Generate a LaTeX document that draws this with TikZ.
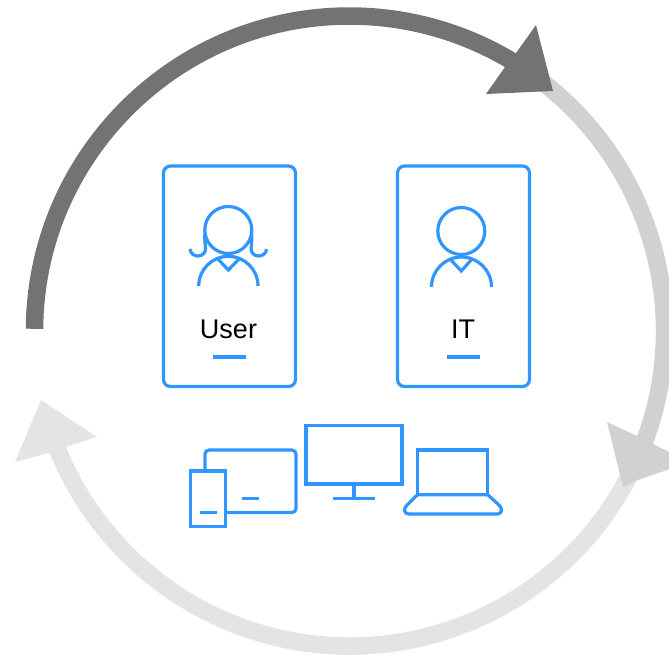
\documentclass[tikz,border=0pt]{standalone}
\usepackage{fontspec}
\setmainfont{Liberation Sans}
\definecolor{blueic}{HTML}{2F96FF}
\definecolor{darkarc}{HTML}{737373}
\definecolor{midarc}{HTML}{D1D1D1}
\definecolor{lightarc}{HTML}{E4E4E4}
\tikzset{
  icon/.style={draw=blueic,line width=3.2pt,fill=none},
  card/.style={icon,rounded corners=7pt},
  lbl/.style={font=\fontsize{27}{31}\selectfont,text=black,inner sep=0pt,anchor=base},
  ring/.style={line width=17.5pt,draw=#1}
}
\begin{document}
\begin{tikzpicture}[x=1pt,y=1pt,yscale=-1]
\useasboundingbox (0,0) rectangle (669,657);
% light arc and head
\draw[ring=lightarc] (349.5,331) ++(25:315pt) arc[start angle=25,end angle=159,radius=315pt];
\fill[lightarc] (41,400) -- (97,437) -- (65,447) -- (49,453) -- (15,462) -- cycle;
% mid arc and head
\draw[ring=midarc] (349.5,331) ++(-55:315pt) arc[start angle=-55,end angle=26,radius=315pt];
\fill[midarc] (607,422) -- (637,436) -- (653,444) -- (690,462) -- (635,481) -- (623,487) -- cycle;
% dark arc and head
\draw[ring=darkarc] (349.5,331) ++(180.4:315pt) arc[start angle=180.4,end angle=303,radius=315pt];
\fill[darkarc] (536,25) -- (553,91) -- (486,94) -- (505,67) -- (516,53) -- cycle;
% user card
\draw[card] (163.5,166) rectangle (295.5,386.5);
\draw[icon] (228.3,230) circle[radius=23.5pt];
\draw[icon] (190,249) .. controls (190.5,253.5) and (194,256) .. (198,256) .. controls (203,256) and (206,252) .. (205.5,248) .. controls (205,243) and (204.5,238) .. (205,233);
\draw[icon] (266.6,249) .. controls (266.1,253.5) and (262.6,256) .. (258.6,256) .. controls (253.6,256) and (250.6,252) .. (251.1,248) .. controls (251.6,243) and (252.1,238) .. (251.6,233);
\draw[icon] (198.7,286) arc[start angle=180,end angle=360,radius=29.65pt];
\draw[icon] (218,259) -- (228.3,270) -- (239,259);
\node[lbl] (usertext) at (228.5,338) {User};
\draw[icon] (213,357) -- (245.7,357);
% IT card
\draw[card] (397.5,166) rectangle (529.5,386.5);
\draw[icon] (461.3,231) circle[radius=23.5pt];
\draw[icon] (431.5,287) arc[start angle=180,end angle=360,radius=30pt];
\draw[icon] (450,259) -- (461.3,271) -- (472,259);
\node[lbl] (ittext) at (463,338) {IT};
\draw[icon] (447,357) -- (480,357);
% tablet
\draw[icon] (205,472) -- (205,454) arc[start angle=180,end angle=270,radius=4pt] -- (292,450) arc[start angle=270,end angle=360,radius=4pt] -- (296,508.5) arc[start angle=0,end angle=90,radius=4pt] -- (226,512.5);
\draw[icon] (241.7,498.5) -- (259,498.5);
% phone
\draw[icon] (190.8,471) rectangle (225.8,526.5);
\draw[icon] (200,512.5) -- (217,512.5);
% monitor
\draw[icon] (306,425.5) rectangle (402,484);
\draw[icon] (354,484) -- (354,498.5);
\draw[icon] (333.3,498.5) -- (375,498.5);
% laptop
\draw[icon] (417.3,494.7) -- (417.3,450) -- (487.7,450) -- (487.7,494.7);
\draw[icon,line join=round] (417.3,494.7) -- (407,505) .. controls (403,509) and (404,514) .. (409,514) -- (497,514) .. controls (502,514) and (503,509) .. (499,505) -- (487.7,494.7) -- cycle;
\end{tikzpicture}
\end{document}
